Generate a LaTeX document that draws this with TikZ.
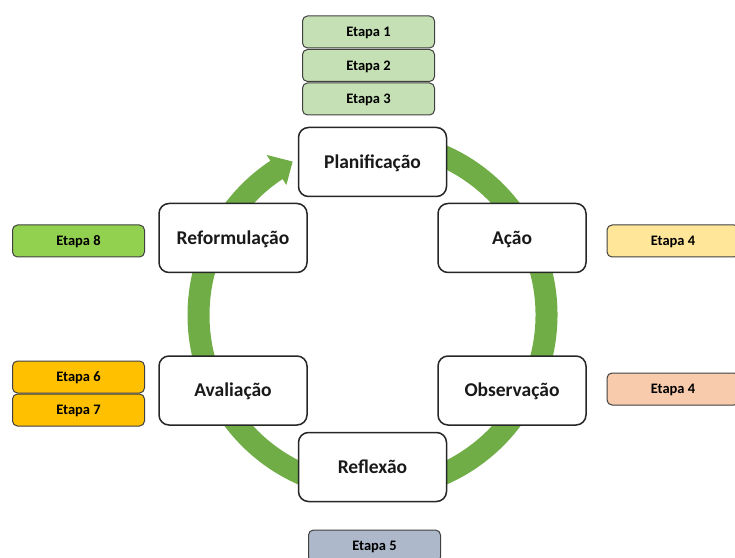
\documentclass[tikz,border=0pt]{standalone}
\usepackage{fontspec}
\setmainfont{Carlito}
\usetikzlibrary{calc}
\definecolor{cyclegreen}{HTML}{70AD47}
\definecolor{etapaA}{HTML}{C5E0B4}
\definecolor{etapaB}{HTML}{92D050}
\definecolor{etapaC}{HTML}{FFE699}
\definecolor{etapaD}{HTML}{F8CBAD}
\definecolor{etapaE}{HTML}{FFC000}
\definecolor{etapaF}{HTML}{ADB9CA}
\tikzset{
  mainbox/.style={draw=black!85, line width=1.5pt, rounded corners=10pt, fill=white,
    minimum width=148pt, minimum height=69pt, inner sep=0pt,
    text height=12.6pt, text depth=0pt,
    font=\fontsize{19.5}{22}\selectfont\bfseries, text=black!90},
  etapabox/.style={draw=black!75, line width=1pt, rounded corners=5pt,
    minimum width=132pt, minimum height=32pt, inner sep=0pt,
    text height=9.3pt, text depth=0pt,
    font=\fontsize{14.5}{17}\selectfont\bfseries, text=black},
}
\begin{document}
\begin{tikzpicture}[x=1pt,y=1pt]
\useasboundingbox (0,0) rectangle (735,557);
\coordinate (c) at (372.5,242);
% cycle arc
\draw[cyclegreen, line width=22pt] ([shift={(85:174)}]c) arc[start angle=85, end angle=-237, radius=174];
\fill[cyclegreen] ([shift={(117.5:173)}]c) -- ([shift={(123.5:192)}]c) -- ([shift={(123.5:156)}]c) -- cycle;
% main boxes
\node[mainbox] (plan) at (372.5,395) {Planificação};
\node[mainbox] (acao) at (512,319) {Ação};
\node[mainbox] (obs) at (512,166.5) {Observação};
\node[mainbox] (refl) at (372.5,90) {Reflexão};
\node[mainbox] (aval) at (233,166.5) {Avaliação};
\node[mainbox] (reform) at (233,319) {Reformulação};
% etapa boxes
\node[etapabox, fill=etapaA] (e1) at (368.5,525) {Etapa 1};
\node[etapabox, fill=etapaA] (e2) at (368.5,491.5) {Etapa 2};
\node[etapabox, fill=etapaA] (e3) at (368.5,458) {Etapa 3};
\node[etapabox, fill=etapaB] (e8) at (78.5,316) {Etapa 8};
\node[etapabox, fill=etapaC] (e4a) at (673,316) {Etapa 4};
\node[etapabox, fill=etapaD] (e4b) at (673,168) {Etapa 4};
\node[etapabox, fill=etapaE] (e6) at (78.5,180) {Etapa 6};
\node[etapabox, fill=etapaE] (e7) at (78.5,147) {Etapa 7};
\node[etapabox, fill=etapaF] (e5) at (374.5,11) {Etapa 5};
\end{tikzpicture}
\end{document}
